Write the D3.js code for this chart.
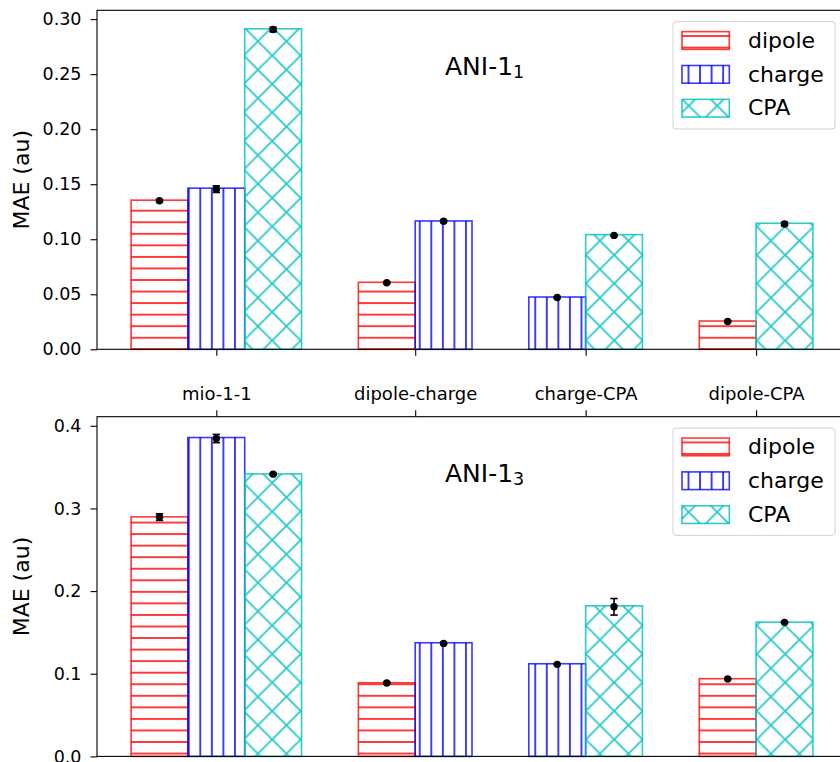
<!DOCTYPE html>
<html>
<head>
<meta charset="utf-8">
<script src="https://cdn.jsdelivr.net/npm/d3@7"></script>
<style>
body { margin: 0; background: #fff; }
text { font-family: "DejaVu Sans", sans-serif; }
</style>
</head>
<body>
<svg width="840" height="762"></svg>
<script>
var groups = ["mio-1-1", "dipole-charge", "charge-CPA", "dipole-CPA"];
var groupPos = [0, 1.1667, 2.1667, 3.1667];
var seriesNames = ["dipole", "charge", "CPA"];

// ANI-1_1 panel
var ani1Dipole = [0.1355, 0.0609, null, 0.0257];
var ani1Charge = [0.1464, 0.1166, 0.0475, null];
var ani1CPA = [0.2912, null, 0.1042, 0.1145];
var ani1DipoleMean = [0.1350, 0.0605, null, 0.0252];
var ani1ChargeMean = [0.1455, 0.1163, 0.0470, null];
var ani1CPAMean = [0.2905, null, 0.1035, 0.1138];
var ani1DipoleErr = [0.0010, 0.0008, null, 0.0005];
var ani1ChargeErr = [0.0030, 0.0010, 0.0005, null];
var ani1CPAErr = [0.0020, null, 0.0005, 0.0015];
var ani1Ticks = [0, 0.05, 0.10, 0.15, 0.20, 0.25, 0.30];

// ANI-1_3 panel
var ani3Dipole = [0.2898, 0.0891, null, 0.0940];
var ani3Charge = [0.3858, 0.1375, 0.1121, null];
var ani3CPA = [0.3418, null, 0.1822, 0.1625];
var ani3DipoleMean = [0.2895, 0.0888, null, 0.0936];
var ani3ChargeMean = [0.3846, 0.1367, 0.1114, null];
var ani3CPAMean = [0.3415, null, 0.1810, 0.1622];
var ani3DipoleErr = [0.0040, 0.0010, null, 0.0005];
var ani3ChargeErr = [0.0050, 0.0010, 0.0005, null];
var ani3CPAErr = [0.0010, null, 0.0100, 0.0005];
var ani3Ticks = [0, 0.1, 0.2, 0.3, 0.4];

var colors = ["rgba(255,0,0,0.78)", "rgba(0,0,255,0.78)", "rgba(0,191,191,0.82)"];
var barWidth = 1 / 3;
var hatchWidth = 1.9;

var svg = d3.select("svg");
var defs = svg.append("defs");

// hatches, anchored to the page like matplotlib does
var step = 11.55;
var hp = defs.append("pattern").attr("id", "hatch0")
  .attr("patternUnits", "userSpaceOnUse")
  .attr("x", 0).attr("y", 349.3 - step / 2)
  .attr("width", 20).attr("height", step);
hp.append("line").attr("x1", 0).attr("x2", 20)
  .attr("y1", step / 2).attr("y2", step / 2)
  .attr("stroke", colors[0]).attr("stroke-width", hatchWidth);

var vp = defs.append("pattern").attr("id", "hatch1")
  .attr("patternUnits", "userSpaceOnUse")
  .attr("x", 200.3 - step / 2).attr("y", 0)
  .attr("width", step).attr("height", 20);
vp.append("line").attr("y1", 0).attr("y2", 20)
  .attr("x1", step / 2).attr("x2", step / 2)
  .attr("stroke", colors[1]).attr("stroke-width", hatchWidth);

var cs = 28.5;
var xp = defs.append("pattern").attr("id", "hatch2")
  .attr("patternUnits", "userSpaceOnUse")
  .attr("x", 585.7).attr("y", 255)
  .attr("width", cs).attr("height", cs);
xp.append("path")
  .attr("d", "M0,0L" + cs + "," + cs + "M" + cs + ",0L0," + cs)
  .attr("stroke", colors[2]).attr("stroke-width", hatchWidth).attr("fill", "none");

var xScale = d3.scaleLinear().domain([-0.7, 3.7]).range([97, 847]);

var panels = [
  { title: "ANI-1", sub: "1", top: 10.3, bottom: 349.3, ymax: 0.308, ticks: ani1Ticks, fmt: ".2f",
    bars: [ani1Dipole, ani1Charge, ani1CPA], means: [ani1DipoleMean, ani1ChargeMean, ani1CPAMean],
    errs: [ani1DipoleErr, ani1ChargeErr, ani1CPAErr], labelsOnTop: false },
  { title: "ANI-1", sub: "3", top: 416.7, bottom: 756.4, ymax: 0.411, ticks: ani3Ticks, fmt: ".1f",
    bars: [ani3Dipole, ani3Charge, ani3CPA], means: [ani3DipoleMean, ani3ChargeMean, ani3CPAMean],
    errs: [ani3DipoleErr, ani3ChargeErr, ani3CPAErr], labelsOnTop: true }
];

var drawPanel = function(p)
{
  var yScale = d3.scaleLinear().domain([0, p.ymax]).range([p.bottom, p.top]);
  var g = svg.append("g");

  // bars
  groups.forEach(function(name, gi)
  {
    var present = [];
    for (var s = 0; s < 3; s++) { if (p.bars[s][gi] != null) present.push(s); }
    present.forEach(function(s, k)
    {
      var cx = groupPos[gi] + (k - (present.length - 1) / 2) * barWidth;
      var x0 = xScale(cx - barWidth / 2), x1 = xScale(cx + barWidth / 2);
      var v = p.bars[s][gi];
      g.append("rect")
        .attr("x", x0).attr("width", x1 - x0)
        .attr("y", yScale(v)).attr("height", yScale(0) - yScale(v))
        .attr("fill", "url(#hatch" + s + ")")
        .attr("stroke", colors[s]).attr("stroke-width", 1.6);
    });
    present.forEach(function(s, k)
    {
      var cx = xScale(groupPos[gi] + (k - (present.length - 1) / 2) * barWidth);
      var m = p.means[s][gi], e = p.errs[s][gi];
      var eg = g.append("g").attr("stroke", "#000").attr("stroke-width", 1.6);
      eg.append("line").attr("x1", cx).attr("x2", cx).attr("y1", yScale(m - e)).attr("y2", yScale(m + e));
      eg.append("line").attr("x1", cx - 3.7).attr("x2", cx + 3.7).attr("y1", yScale(m - e)).attr("y2", yScale(m - e));
      eg.append("line").attr("x1", cx - 3.7).attr("x2", cx + 3.7).attr("y1", yScale(m + e)).attr("y2", yScale(m + e));
      g.append("circle").attr("cx", cx).attr("cy", yScale(m)).attr("r", 3.7).attr("fill", "#000");
    });
  });

  // y axis
  var yAxis = g.append("g").attr("transform", "translate(97,0)")
    .call(d3.axisLeft(yScale).tickValues(p.ticks).tickFormat(d3.format(p.fmt))
      .tickSize(6.5).tickSizeOuter(0).tickPadding(9));
  yAxis.select(".domain").remove();
  yAxis.selectAll("text").attr("font-size", 17.5).attr("fill", "#000").attr("font-family", "DejaVu Sans");
  yAxis.selectAll("line").attr("stroke", "#000").attr("stroke-width", 1.1);

  // x axis
  var xAxis;
  if (p.labelsOnTop)
  {
    xAxis = g.append("g").attr("transform", "translate(0," + p.top + ")")
      .call(d3.axisTop(xScale).tickValues(groupPos).tickFormat(function(d, i) { return groups[i]; })
        .tickSize(6.5).tickSizeOuter(0).tickPadding(10));
  }
  else
  {
    xAxis = g.append("g").attr("transform", "translate(0," + p.bottom + ")")
      .call(d3.axisBottom(xScale).tickValues(groupPos).tickFormat("")
        .tickSize(6.5).tickSizeOuter(0));
  }
  xAxis.select(".domain").remove();
  xAxis.selectAll("text").attr("font-size", 18).attr("fill", "#000").attr("font-family", "DejaVu Sans");
  xAxis.selectAll("line").attr("stroke", "#000").attr("stroke-width", 1.1);

  // spines
  g.append("rect").attr("x", 97).attr("y", p.top)
    .attr("width", 847 - 97).attr("height", p.bottom - p.top)
    .attr("fill", "none").attr("stroke", "#000").attr("stroke-width", 1.1);

  // y label
  g.append("text")
    .attr("transform", "translate(29," + ((p.top + p.bottom) / 2) + ") rotate(-90)")
    .attr("text-anchor", "middle").attr("font-size", 22)
    .text("MAE (au)");

  // title
  var t = g.append("text").attr("x", 445).attr("y", p.top + 65).attr("font-size", 25);
  t.append("tspan").text(p.title);
  t.append("tspan").attr("font-size", 17.5).attr("dy", 3).text(p.sub);

  // legend
  var lg = g.append("g").attr("transform", "translate(673," + (p.top + 11.4) + ")");
  lg.append("rect").attr("width", 162).attr("height", 107.3).attr("rx", 3)
    .attr("fill", "rgba(255,255,255,0.8)").attr("stroke", "#d0d0d0").attr("stroke-width", 1);
  seriesNames.forEach(function(name, s)
  {
    var cy = 18.8 + s * 33.85;
    lg.append("rect").attr("x", 9).attr("y", cy - 8.85).attr("width", 47.3).attr("height", 17.7)
      .attr("fill", "url(#hatch" + s + ")").attr("stroke", colors[s]).attr("stroke-width", 1.6);
    lg.append("text").attr("x", 75).attr("y", cy + 7.2).attr("font-size", 22).text(name);
  });
};

panels.forEach(drawPanel);
</script>
</body>
</html>
